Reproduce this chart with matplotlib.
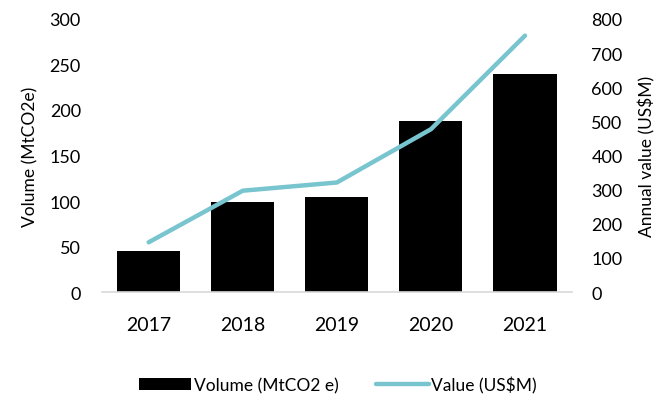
import matplotlib
matplotlib.use("Agg")
from matplotlib import pyplot as plt

years = ["2017", "2018", "2019", "2020", "2021"]
volume = [45, 99, 104, 188, 240]
value = [146, 297, 321, 477, 751]

plt.rcParams['font.family'] = ['Lato', 'DejaVu Sans']

fig = plt.figure(figsize=(6.56, 4.06), dpi=100)
ax = fig.add_axes([0.155, 0.278, 0.717, 0.673])
ax2 = ax.twinx()

x = range(len(years))
bars = ax.bar(x, volume, width=0.67, color="black", label="Volume (MtCO2 e)")
line, = ax2.plot(x, value, color="#78C5D0", linewidth=3.2,
                 solid_capstyle="round", label="Value (US$M)")

ax.set_xlim(-0.5, 4.5)
ax.set_ylim(0, 300)
ax2.set_ylim(0, 800)
ax.set_yticks(range(0, 301, 50))
ax2.set_yticks(range(0, 801, 100))
ax.set_xticks(list(x))
ax.set_xticklabels(years, fontsize=14)
ax.tick_params(axis="x", length=0, pad=17)
ax.tick_params(axis="y", length=0, labelsize=13, pad=15)
ax2.tick_params(axis="y", length=0, labelsize=13, pad=14)

for a in (ax, ax2):
    for s in ("top", "left", "right"):
        a.spines[s].set_visible(False)
ax2.spines["bottom"].set_visible(False)
ax.spines["bottom"].set_color("#d9d9d9")
ax.spines["bottom"].set_linewidth(1.2)

ax.set_ylabel("Volume (MtCO2e)", fontsize=12.5, labelpad=8)
ax2.set_ylabel("Annual value (US$M)", fontsize=12.5, labelpad=11)

fig.legend([bars, line], ["Volume (MtCO2 e)", "Value (US$M)"],
           loc="lower center", bbox_to_anchor=(0.515, -0.01), ncol=2,
           frameon=False, fontsize=12.5, handlelength=3.0, handletextpad=0.15,
           columnspacing=2.2)

fig.savefig("out.png", dpi=100)
